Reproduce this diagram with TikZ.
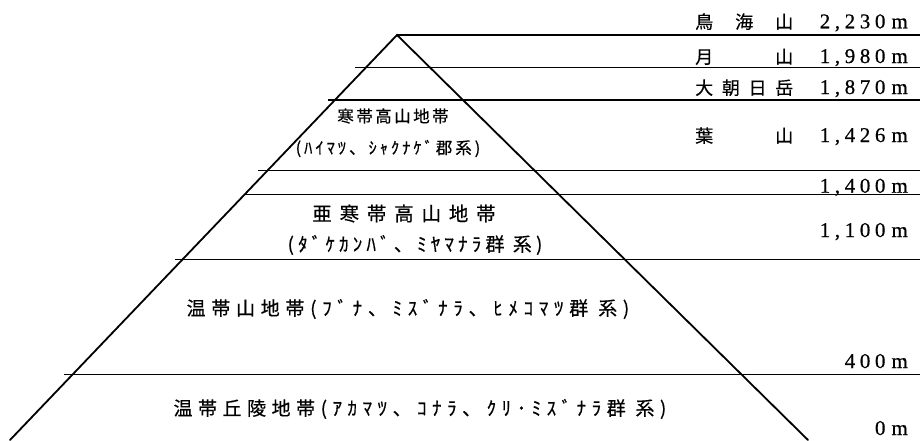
\documentclass[tikz,border=0pt]{standalone}
\usepackage{fontspec}
\newfontfamily\jp[FakeBold=0.5]{Noto Sans CJK JP}
\newfontfamily\nm[FakeBold=0.6]{Liberation Serif}
\newcommand\jpsize[2]{\jp\fontsize{#1}{#1}\selectfont\addfontfeature{LetterSpace=#2}}
\newcommand\unitgap{\hspace{6pt}}
\begin{document}
\begin{tikzpicture}[x=1pt,y=-1pt,
  slope/.style={line width=1.8pt,line cap=round},
  band/.style={line width=1.3pt},
  zonetext/.style={inner sep=0pt,anchor=center},
  nametext/.style={inner sep=0pt,anchor=base west,font=\jp\fontsize{18}{18}\selectfont},
  numtext/.style={inner sep=0pt,anchor=base east,font=\nm\fontsize{21}{21}\selectfont\addfontfeature{LetterSpace=22}}]
\useasboundingbox (0,0) rectangle (920,440);
\fill[white] (0,0) rectangle (920,440);
% pyramid
\coordinate (apex) at (397,35);
\coordinate (bl) at (10,440);
\coordinate (br) at (808,440);
\draw[slope] (bl) -- (apex) -- (br);
% bands
\coordinate (r0) at (920,35);
\coordinate (l1) at (355,67.7);  \coordinate (r1) at (920,67.7);
\coordinate (l2) at (328,100);   \coordinate (r2) at (920,100);
\coordinate (l3) at (258,170.5); \coordinate (r3) at (920,170.5);
\coordinate (l4) at (245,194.5); \coordinate (r4) at (920,194.5);
\coordinate (l5) at (175,259.5); \coordinate (r5) at (920,259.5);
\coordinate (l6) at (64,374.5);  \coordinate (r6) at (920,374.5);
\draw[band] (apex) -- (r0);
\draw[band] (l1) -- (r1);
\draw[band] (l2) -- (r2);
\draw[band] (l3) -- (r3);
\draw[band] (l4) -- (r4);
\draw[band] (l5) -- (r5);
\draw[band] (l6) -- (r6);
% zone labels
\node[zonetext,font=\jpsize{16.5}{15}] (z1a) at (393,116) {寒帯高山地帯};
\node[zonetext,font=\jpsize{16.5}{18}] (z1b) at (388,148.5) {(ﾊｲﾏﾂ、ｼｬｸﾅｹﾞ郡系)};
\node[zonetext,font=\jpsize{19.5}{40}] (z2a) at (404,213.5) {亜寒帯高山地帯};
\node[zonetext,font=\jpsize{19}{22}] (z2b) at (415,245) {(ﾀﾞｹｶﾝﾊﾞ、ﾐﾔﾏﾅﾗ群 系)};
\node[zonetext,font=\jpsize{19}{30}] (z3) at (408,309) {温帯山地帯(ﾌﾞﾅ、ﾐｽﾞﾅﾗ、ﾋﾒｺﾏﾂ群 系)};
\node[zonetext,font=\jpsize{19}{29}] (z4) at (420,409) {温帯丘陵地帯(ｱｶﾏﾂ、ｺﾅﾗ、ｸﾘ･ﾐｽﾞﾅﾗ群 系)};
% mountain names
\node[nametext] (m1) at (695,28.5) {\makebox[98pt][s]{鳥\hfill 海\hfill 山}};
\node[nametext] (m2) at (695,63.5) {\makebox[98pt][s]{月\hfill 山}};
\node[nametext] (m3) at (695,94.5) {\makebox[98pt][s]{大\hfill 朝\hfill 日\hfill 岳}};
\node[nametext] (m4) at (695,142.5) {\makebox[98pt][s]{葉\hfill 山}};
% altitudes
\node[numtext] (h1) at (908,28.3) {2,230\unitgap m};
\node[numtext] (h2) at (908,63) {1,980\unitgap m};
\node[numtext] (h3) at (908,94) {1,870\unitgap m};
\node[numtext] (h4) at (908,142) {1,426\unitgap m};
\node[numtext] (h5) at (908,192.7) {1,400\unitgap m};
\node[numtext] (h6) at (908,237) {1,100\unitgap m};
\node[numtext] (h7) at (908,368) {400\unitgap m};
\node[numtext] (h8) at (908,435) {0\unitgap m};
\end{tikzpicture}
\end{document}
